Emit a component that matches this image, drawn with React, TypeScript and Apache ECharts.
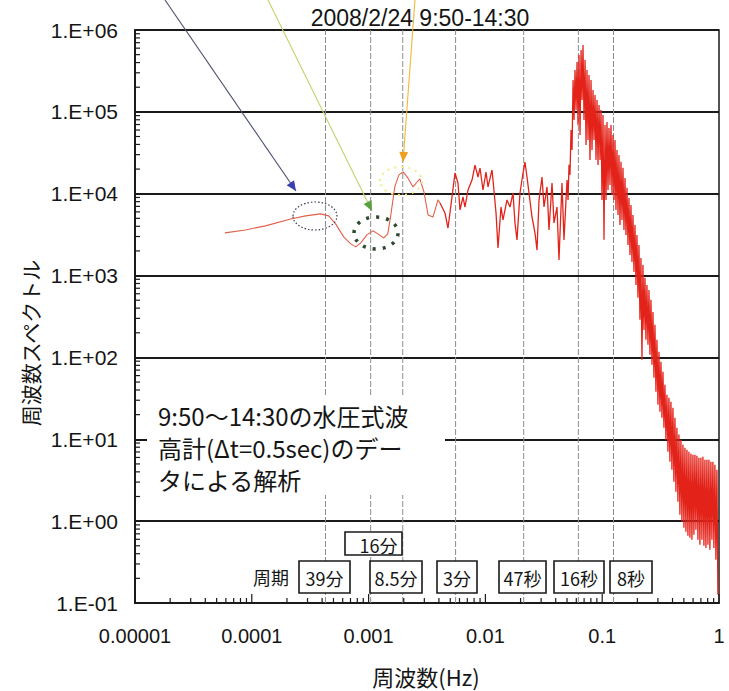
import React, { useEffect, useRef } from "react";
import * as echarts from "echarts";

// ---- data ----
const freqHz = [
  5.9e-5, 8.8e-5, 1.31e-4, 2.15e-4, 2.89e-4, 3.88e-4, 4.55e-4, 5.22e-4, 6.12e-4, 7.03e-4,
  7.76e-4, 8.57e-4, 9.66e-4, 1.087e-3, 1.2e-3, 1.35e-3, 1.46e-3, 1.55e-3, 1.68e-3, 1.82e-3,
  1.97e-3, 2.17e-3, 2.4e-3, 2.6e-3, 2.75e-3, 2.98e-3, 3.23e-3, 3.56e-3, 3.93e-3,
  4.087e-3, 4.51e-3, 4.784e-3, 5.176e-3, 5.491e-3, 5.826e-3, 6.059e-3, 6.428e-3, 6.688e-3, 7.096e-3,
  7.679e-3, 8.147e-3, 8.643e-3, 8.99e-3, 9.539e-3, 1.012e-2, 1.053e-2, 1.139e-2, 1.162e-2, 1.233e-2,
  1.282e-2, 1.36e-2, 1.415e-2, 1.53e-2, 1.624e-2, 1.723e-2, 1.792e-2, 1.864e-2, 1.978e-2, 2.099e-2,
  2.183e-2, 2.271e-2, 2.362e-2, 2.506e-2, 2.659e-2, 2.766e-2, 2.877e-2, 3.053e-2, 3.175e-2, 3.369e-2,
  3.504e-2, 3.718e-2, 3.867e-2, 4.102e-2, 4.266e-2, 4.527e-2, 4.708e-2,
  0.049, 0.05, 0.051, 0.052, 0.053, 0.0541, 0.0552, 0.0563, 0.0574, 0.0585,
  0.0597, 0.0609, 0.0621, 0.0633, 0.0646, 0.0659, 0.0672, 0.0685, 0.0699, 0.0713,
  0.0727, 0.0741, 0.0756, 0.0771, 0.0786, 0.0802, 0.0818, 0.0834, 0.0851, 0.0868,
  0.0885, 0.0903, 0.0921, 0.0939, 0.0958, 0.0977, 0.0996, 0.1016, 0.1036, 0.1057,
  0.1078, 0.1099, 0.1121, 0.1143, 0.1166, 0.1189, 0.1213, 0.1237, 0.1262, 0.1287,
  0.1312, 0.1338, 0.1365, 0.1392, 0.142, 0.1448, 0.1477, 0.1506, 0.1536, 0.1567,
  0.1598, 0.163, 0.1662, 0.1695, 0.1729, 0.1763, 0.1798, 0.1834, 0.187, 0.1908,
  0.1946, 0.1984, 0.2024, 0.2064, 0.2105, 0.2147, 0.219, 0.2233, 0.2278, 0.2323,
  0.2369, 0.2416, 0.2465, 0.2514, 0.2564, 0.2615, 0.2667, 0.272, 0.2774, 0.2829,
  0.2885, 0.2943, 0.3001, 0.3061, 0.3122, 0.3184, 0.3247, 0.3312, 0.3378, 0.3445,
  0.3513, 0.3583, 0.3655, 0.3727, 0.3801, 0.3877, 0.3954, 0.4033, 0.4113, 0.4195,
  0.4278, 0.4363, 0.445, 0.4539, 0.4629, 0.4721, 0.4815, 0.4911, 0.5009, 0.5108,
  0.521, 0.5314, 0.542, 0.5527, 0.5637, 0.575, 0.5864, 0.5981, 0.61, 0.6221,
  0.6345, 0.6471, 0.66, 0.6731, 0.6865, 0.7002, 0.7141, 0.7283, 0.7428, 0.7576,
  0.7727, 0.788, 0.8037, 0.8197, 0.836, 0.8527, 0.8696, 0.8869, 0.9046, 0.9226,
  0.9409, 0.9597, 0.9788,
];

const spectrum = [
  3320, 3610, 4050, 4920, 5360, 5670, 5360, 4280, 2970, 2440,
  2240, 2510, 3140, 3520, 3230, 2880, 3230, 5510, 12400, 17000,
  18500, 15600, 12100, 13900, 15200, 10500, 5510, 5210, 8400,
  7700, 5810, 3810, 9120, 17900, 13500, 6330, 9120, 6880, 11100,
  14700, 22400, 16000, 20600, 11100, 18400, 12100, 19500, 14700, 5810,
  2170, 6880, 4780, 8380, 6880, 10200, 4390, 2720, 10200, 17900,
  24400, 16000, 10200, 5200, 3310, 2050, 8380, 16000, 6880, 12100,
  3600, 13500, 4390, 6880, 1550, 13500, 2720,
  8400, 14700, 8400, 22500, 17000, 60100, 34300, 245000, 79600, 325000,
  105000, 406000, 69200, 495000, 52200, 570000, 140000, 656000, 79600, 430000,
  39400, 325000, 45400, 282000, 25900, 245000, 34300, 185000, 45400, 161000,
  25900, 140000, 22500, 121000, 25900, 105000, 8400, 91600, 2730, 69200,
  8400, 75300, 11100, 63300, 12800, 69200, 9660, 52200, 8400, 45400,
  6340, 34300, 5510, 29800, 4160, 24500, 4790, 20700, 3610, 15600,
  3140, 11800, 2370, 8890, 1790, 7300, 1470, 5510, 1110, 4160,
  769, 3140, 535, 2370, 288, 1640, 93.5, 1350, 217, 937,
  164, 769, 143, 668, 108, 505, 81.3, 360, 56.4, 250,
  38.0, 164, 26.4, 117, 21.7, 88.3, 18.3, 66.7, 13.8, 46.2,
  9.86, 34.9, 7.03, 32.1, 5.31, 28.7, 4.25, 24.3, 3.03, 18.3,
  2.29, 13.8, 1.73, 11.4, 1.2, 9.86, 0.984, 8.57, 0.83, 7.87,
  0.741, 7.45, 0.663, 7.03, 0.627, 6.65, 0.593, 6.47, 0.683, 6.47,
  0.785, 6.29, 0.593, 5.94, 0.515, 5.94, 0.593, 6.11, 0.5, 5.62,
  0.47, 5.62, 0.515, 5.62, 0.448, 5.31, 0.593, 5.31, 0.47, 4.89,
  0.338, 4.25, 0.126,
];

// frequency where the trace turns from the thin low-frequency curve into the dense band
const bandStartHz = 4.087e-3;

const periodSeconds = [2340, 960, 510, 180, 47, 16, 8];
const periodLabels = ["39分", "16分", "8.5分", "3分", "47秒", "16秒", "8秒"];
const xTickLabels = ["0.00001", "0.0001", "0.001", "0.01", "0.1", "1"];
const yTickLabels = ["1.E-01", "1.E+00", "1.E+01", "1.E+02", "1.E+03", "1.E+04", "1.E+05", "1.E+06"];
const xDecades = [-5, -4, -3, -2, -1, 0];
const yDecades = [-1, 0, 1, 2, 3, 4, 5, 6];
const minorMultipliers = [2, 3, 4, 5, 6, 7, 8, 9];
const titleText = "2008/2/24 9:50-14:30";
const noteLines = ["9:50〜14:30の水圧式波", "高計(Δt=0.5sec)のデー", "タによる解析"];
const yAxisTitle = "周波数スペクトル";
const xAxisTitle = "周波数(Hz)";
const periodCaption = "周期";

const X_MIN = 1e-5;
const X_MAX = 1;
const Y_MIN = 0.1;
const Y_MAX = 1e6;

const LATIN = '"Liberation Sans", Arial, sans-serif';
const CJK = '"Noto Sans CJK JP", "Noto Sans", sans-serif';

function arrowHead(x1: number, y1: number, x2: number, y2: number, len: number, half: number) {
  const dx = x2 - x1;
  const dy = y2 - y1;
  const d = Math.sqrt(dx * dx + dy * dy);
  const ux = dx / d;
  const uy = dy / d;
  const nx = -uy;
  const ny = ux;
  const bx = x2 - ux * len;
  const by = y2 - uy * len;
  return [
    [x2, y2],
    [bx + nx * half, by + ny * half],
    [bx - nx * half, by - ny * half],
  ];
}

export default function App() {
  const ref = useRef<HTMLDivElement>(null);

  useEffect(() => {
    if (!ref.current) return;
    const chart = echarts.init(ref.current, undefined, { renderer: "svg" });

    const n = Math.min(freqHz.length, spectrum.length);
    const lowData: number[][] = [];
    const bandData: number[][] = [];
    for (let i = 0; i < n; i++) {
      const pt = [freqHz[i], spectrum[i]];
      if (freqHz[i] <= bandStartHz) lowData.push(pt);
      if (freqHz[i] >= (i > 0 ? freqHz[i - 1] : 0) && freqHz[i] >= bandStartHz) bandData.push(pt);
    }
    // connect the two pieces
    if (lowData.length) bandData.unshift(lowData[lowData.length - 1]);

    const yTickData: number[][] = [];
    yDecades.slice(0, -1).forEach((e) => {
      minorMultipliers.forEach((m) => yTickData.push([X_MIN, m * Math.pow(10, e), 5]));
    });
    const xTickData: number[][] = [];
    xDecades.forEach((e, i) => {
      xTickData.push([Math.pow(10, e), Y_MIN, 9]);
      if (i < xDecades.length - 1) {
        minorMultipliers.forEach((m) => xTickData.push([m * Math.pow(10, e), Y_MIN, 5]));
      }
    });
    const periodLineData = periodSeconds.map((s) => [1 / s, Y_MIN]);

    const boxes = [
      { i: 0, x: 299, y: 561, w: 51, h: 32, dx: 0 },
      { i: 1, x: 345, y: 532, w: 57, h: 23, dx: 5 },
      { i: 2, x: 370, y: 561, w: 52, h: 32, dx: 0 },
      { i: 3, x: 437, y: 561, w: 40, h: 32, dx: 0 },
      { i: 4, x: 499, y: 561, w: 47, h: 32, dx: 0 },
      { i: 5, x: 554, y: 561, w: 50, h: 32, dx: 0 },
      { i: 6, x: 610, y: 561, w: 42, h: 32, dx: 0 },
    ];

    const txt = (x: number, y: number, text: string, font: string, align = "center", extra: any = {}) => ({
      type: "text",
      x,
      y,
      z: 120,
      ...extra,
      style: {
        text,
        font,
        fill: "#151515",
        align,
        textAlign: align,
        verticalAlign: "middle",
        textVerticalAlign: "middle",
      },
    });

    const graphics: any[] = [];
    graphics.push({ type: "rect", z: 90, shape: { x: 147, y: 397, width: 298, height: 98 }, style: { fill: "#ffffff" } });
    noteLines.forEach((t, k) => graphics.push(txt(158, 415 + k * 32, t, `24px ${CJK}`, "left")));

    boxes.forEach((b) => {
      graphics.push({
        type: "rect",
        z: 100,
        shape: { x: b.x, y: b.y, width: b.w, height: b.h },
        style: { fill: "#ffffff", stroke: "#1a1a1a", lineWidth: 1.6 },
      });
      graphics.push(txt(b.x + b.w / 2 + b.dx, b.y + b.h / 2 + 1, periodLabels[b.i], `18px ${CJK}`));
    });
    graphics.push(txt(271, 577, periodCaption, `18px ${CJK}`));

    graphics.push(txt(420, 18, titleText, `23px ${LATIN}`));
    graphics.push(txt(426, 676, xAxisTitle, `22px ${CJK}`));
    graphics.push(txt(30, 343, yAxisTitle, `21px ${CJK}`, "center", { rotation: Math.PI / 2 }));

    const arrows = [
      { p: [165, 0, 296, 191], color: "#4d5270", head: "#3a3fb0" },
      { p: [268, 0, 372, 211], color: "#c9cf6a", head: "#5aa040" },
      { p: [415, 0, 403, 162], color: "#f2b83a", head: "#f0a020" },
    ];
    arrows.forEach((a) => {
      graphics.push({
        type: "line",
        z: 110,
        shape: { x1: a.p[0], y1: a.p[1], x2: a.p[2], y2: a.p[3] },
        style: { stroke: a.color, lineWidth: 1.1 },
      });
      graphics.push({
        type: "polygon",
        z: 111,
        shape: { points: arrowHead(a.p[0], a.p[1], a.p[2], a.p[3], 10, 4.5) },
        style: { fill: a.head },
      });
    });

    graphics.push({
      type: "ellipse",
      z: 110,
      shape: { cx: 315, cy: 216, rx: 22, ry: 14 },
      style: { fill: "none", stroke: "#3a3d5a", lineWidth: 1.2, lineDash: [1.5, 2] },
    });
    graphics.push({
      type: "ellipse",
      z: 110,
      shape: { cx: 376, cy: 233, rx: 22, ry: 16 },
      style: { fill: "none", stroke: "#2e4a30", lineWidth: 3.5, lineDash: [3, 7] },
    });
    graphics.push({
      type: "ellipse",
      z: 110,
      shape: { cx: 401, cy: 181, rx: 21, ry: 14 },
      style: { fill: "none", stroke: "#f3ea85", lineWidth: 2, lineDash: [2, 5] },
    });

    const option: any = {
      animation: false,
      backgroundColor: "#ffffff",
      grid: {
        left: 135,
        right: 10,
        top: 30,
        bottom: 88,
        show: true,
        borderColor: "#1a1a1a",
        borderWidth: 1.5,
        backgroundColor: "transparent",
        outerBoundsMode: "none",
        containLabel: false,
      },
      xAxis: {
        type: "log",
        logBase: 10,
        min: X_MIN,
        max: X_MAX,
        splitNumber: 5,
        axisLine: { show: true, lineStyle: { color: "#1a1a1a", width: 2 } },
        axisTick: { show: false },
        splitLine: { show: false },
        axisLabel: {
          margin: 23,
          fontSize: 20,
          color: "#151515",
          fontFamily: LATIN,
          formatter: (v: number) => {
            const e = Math.round(Math.log10(v));
            return xTickLabels[e + 5] ?? "";
          },
        },
      },
      yAxis: {
        type: "log",
        logBase: 10,
        min: Y_MIN,
        max: Y_MAX,
        splitNumber: 7,
        axisLine: { show: true, lineStyle: { color: "#1a1a1a", width: 2 } },
        axisTick: { show: false },
        splitLine: { show: true, lineStyle: { color: "#1a1a1a", width: 2 } },
        axisLabel: {
          margin: 17,
          fontSize: 21,
          color: "#151515",
          fontFamily: LATIN,
          formatter: (v: number) => {
            const e = Math.round(Math.log10(v));
            return yTickLabels[e + 1] ?? "";
          },
        },
      },
      series: [
        {
          type: "custom",
          silent: true,
          data: periodLineData,
          renderItem: (params: any, api: any) => {
            const p0 = api.coord([api.value(0), Y_MIN]);
            const p1 = api.coord([api.value(0), Y_MAX]);
            return {
              type: "line",
              shape: { x1: p0[0], y1: p0[1], x2: p1[0], y2: p1[1] },
              style: { stroke: "#8c8c8c", lineWidth: 1, lineDash: [6, 2] },
            };
          },
          z: 1,
        },
        {
          type: "line",
          data: lowData,
          showSymbol: false,
          symbol: "none",
          lineStyle: { color: "#e2604a", width: 1.1 },
          z: 5,
        },
        {
          type: "line",
          data: bandData,
          showSymbol: false,
          symbol: "none",
          lineStyle: { color: "#e3231a", width: 1.3 },
          z: 5,
        },
        {
          type: "custom",
          silent: true,
          data: yTickData,
          renderItem: (params: any, api: any) => {
            const p = api.coord([api.value(0), api.value(1)]);
            const len = api.value(2);
            return {
              type: "line",
              shape: { x1: p[0], y1: p[1], x2: p[0] + len, y2: p[1] },
              style: { stroke: "#1a1a1a", lineWidth: 1.2 },
            };
          },
          z: 6,
        },
        {
          type: "custom",
          silent: true,
          data: xTickData,
          renderItem: (params: any, api: any) => {
            const p = api.coord([api.value(0), api.value(1)]);
            const len = api.value(2);
            return {
              type: "line",
              shape: { x1: p[0], y1: p[1], x2: p[0], y2: p[1] - len },
              style: { stroke: "#1a1a1a", lineWidth: 1.2 },
            };
          },
          z: 6,
        },
      ],
      graphic: { elements: graphics },
    };

    chart.setOption(option);
    return () => chart.dispose();
  }, []);

  return (
    <div
      ref={ref}
      style={{ position: "fixed", left: 0, top: 0, width: 729, height: 691, background: "#fff" }}
    />
  );
}
